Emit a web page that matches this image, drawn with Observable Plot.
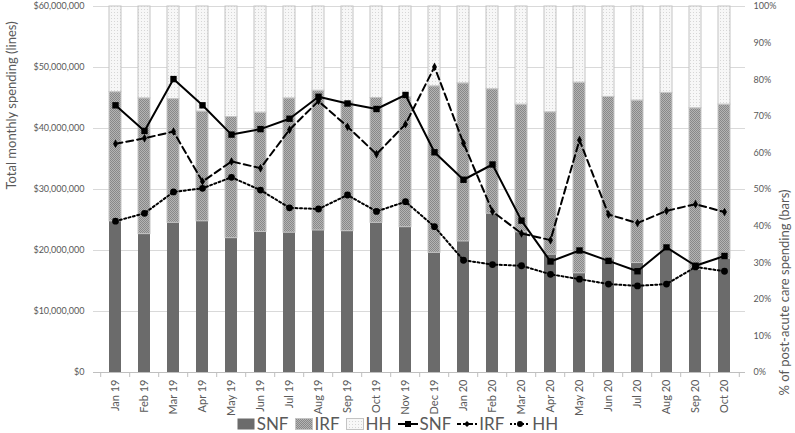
<!DOCTYPE html>
<html>
<head>
<meta charset="utf-8">
<script src="https://cdn.jsdelivr.net/npm/d3@7"></script>
<script src="https://cdn.jsdelivr.net/npm/@observablehq/plot@0.6"></script>
<style>
  html, body { margin: 0; padding: 0; background: #fff; }
  #chart { width: 795px; height: 433px; position: relative; font-family: Lato, "Open Sans", sans-serif; }
  #legend { position: absolute; left: 0; top: 414px; width: 795px; height: 19px; display: flex; justify-content: center; align-items: center; gap: 0; font-size: 17px; color: #595959; }
  .item { display: flex; align-items: center; margin: 0 3px; }
  .item svg { margin-right: 2px; }
</style>
</head>
<body>
<div id="chart"></div>
<script>
// ---- data ----
const months = ["Jan 19","Feb 19","Mar 19","Apr 19","May 19","Jun 19","Jul 19","Aug 19","Sep 19","Oct 19","Nov 19","Dec 19",
                "Jan 20","Feb 20","Mar 20","Apr 20","May 20","Jun 20","Jul 20","Aug 20","Sep 20","Oct 20"];
// bars: share of post-acute care spending (%)
const snfPct = [41.3,37.8,40.9,41.3,36.7,38.4,38.2,38.8,38.6,40.9,39.7,32.7,35.8,43.4,38.3,32.2,27.1,30.9,29.9,33.3,28.1,31.1];
const irfPct = [35.3,37.1,33.8,30.0,33.1,32.6,36.7,38.2,35.4,34.1,35.5,45.5,43.2,34.0,34.9,38.9,52.1,44.4,44.4,43.1,44.1,42.1];
const hhPct  = [23.4,25.1,25.3,28.7,30.2,29.0,25.1,23.0,26.0,25.0,24.8,21.8,21.0,22.6,26.8,28.9,20.8,24.7,25.7,23.6,27.8,26.8];
// lines: total monthly spending ($ millions)
const snfSpend = [43.8,39.6,48.1,43.8,39.0,39.9,41.6,45.2,44.1,43.2,45.5,36.1,31.6,34.1,24.9,18.2,20.0,18.3,16.6,20.5,17.5,19.1];
const irfSpend = [37.5,38.4,39.5,31.3,34.6,33.5,39.8,44.5,40.3,35.8,40.7,50.1,37.6,26.4,22.8,21.7,38.1,25.9,24.5,26.5,27.6,26.3];
const hhSpend  = [24.8,26.1,29.6,30.2,32.0,29.9,27.0,26.8,29.1,26.4,28.0,23.9,18.4,17.7,17.5,16.1,15.3,14.5,14.2,14.5,17.3,16.6];
// ticks
const leftTicks = [0,10,20,30,40,50,60];          // $ millions
const rightTicks = [0,10,20,30,40,50,60,70,80,90,100]; // %
const seriesNames = ["SNF","IRF","HH"];
const leftTitle = "Total monthly spending (lines)";
const rightTitle = "% of post-acute care spending (bars)";

// ---- build tables ----
const MAXD = 60e6;
const pctToY = p => p / 100 * MAXD;
const pctArrays = {SNF: snfPct, IRF: irfPct, HH: hhPct};
const spendArrays = {SNF: snfSpend, IRF: irfSpend, HH: hhSpend};
const bars = [];
months.forEach((m, i) => {
  let base = 0;
  seriesNames.forEach(s => {
    const v = pctArrays[s][i];
    bars.push({month: m, series: s, y1: pctToY(base), y2: pctToY(base + v)});
    base += v;
  });
});
const lines = {};
seriesNames.forEach(s => {
  lines[s] = months.map((m, i) => ({month: m, value: spendArrays[s][i] * 1e6}));
});

const fills = {SNF: "#6b6b6b", IRF: "url(#patIRF)", HH: "url(#patHH)"};
const dash = {SNF: null, IRF: "7,4", HH: "2,2.5"};
const symbols = {SNF: "square", IRF: "diamond", HH: "circle"};
const symR = {SNF: 3.6, IRF: 2.6, HH: 3.4};

const lastMonth = months[months.length - 1];

const marks = [
  Plot.ruleY(leftTicks.slice(1).map(t => t * 1e6), {stroke: "#d9d9d9", strokeWidth: 1}),
];
seriesNames.forEach(s => {
  marks.push(Plot.barY(bars.filter(d => d.series === s), {
    x: "month", y1: "y1", y2: "y2",
    fill: fills[s],
    stroke: s === "SNF" ? "none" : "#c4c4c4", strokeWidth: 1
  }));
});
marks.push(Plot.ruleY([0], {stroke: "#bfbfbf", strokeWidth: 1}));
// category boundary tick marks
marks.push(Plot.ruleX(months, {x: d => d, y1: 0, y2: 0, dx: -14.8, insetBottom: -5, stroke: "#bfbfbf"}));
marks.push(Plot.ruleX([lastMonth], {x: d => d, y1: 0, y2: 0, dx: 14.8, insetBottom: -5, stroke: "#bfbfbf"}));
seriesNames.forEach(s => {
  marks.push(Plot.line(lines[s], {x: "month", y: "value", stroke: "#000", strokeWidth: 2, strokeDasharray: dash[s]}));
  marks.push(Plot.dot(lines[s], {x: "month", y: "value", symbol: () => symbols[s], r: symR[s], fill: "#000", stroke: "none"}));
});
marks.push(Plot.axisY(leftTicks.map(t => t * 1e6), {anchor: "left", tickSize: 0, tickPadding: 9, label: null,
  tickFormat: d => "$" + d3.format(",")(d), fontSize: 9, fill: "#595959"}));
marks.push(Plot.axisY(rightTicks.map(pctToY), {anchor: "right", tickSize: 0, tickPadding: 8, label: null,
  tickFormat: d => Math.round(d / MAXD * 100) + "%", fontSize: 9, fill: "#595959"}));
marks.push(Plot.axisX({tickRotate: -90, tickSize: 0, tickPadding: 7, label: null, fontSize: 11, fill: "#595959"}));
marks.push(Plot.text([leftTitle], {text: d => d, frameAnchor: "left", dx: -82, rotate: -90, fontSize: 13, fill: "#595959"}));
marks.push(Plot.text([rightTitle], {text: d => d, frameAnchor: "right", dx: 39, rotate: -90, fontSize: 13, fill: "#595959"}));

const svg = Plot.plot({
  width: 795, height: 412,
  marginTop: 6, marginBottom: 40, marginLeft: 93, marginRight: 50,
  style: {fontFamily: "Lato, 'Open Sans', sans-serif", background: "white", color: "#595959", overflow: "visible"},
  x: {type: "band", domain: months, paddingInner: 0.6, paddingOuter: 0.3, axis: null},
  y: {domain: [0, MAXD], axis: null},
  marks
});

const patternDefs = `
<pattern id="patIRF" width="2" height="2" patternUnits="userSpaceOnUse">
  <rect width="2" height="2" fill="#b4b4b4"/>
  <rect width="1" height="1" fill="#888888"/>
  <rect x="1" y="1" width="1" height="1" fill="#888888"/>
</pattern>
<pattern id="patHH" width="3" height="3" patternUnits="userSpaceOnUse">
  <rect width="3" height="3" fill="#f7f7f7"/>
  <rect width="1" height="1" fill="#d6d6d6"/>
</pattern>`;
const defs = document.createElementNS("http://www.w3.org/2000/svg", "defs");
defs.innerHTML = patternDefs;
svg.insertBefore(defs, svg.firstChild);

const chart = document.getElementById("chart");
chart.appendChild(svg);

// ---- legend ----
const legend = document.createElement("div");
legend.id = "legend";
function swatchSvg(s) {
  const id = "lg" + s;
  let pat = "";
  if (s === "IRF") pat = `<defs><pattern id="${id}" width="2" height="2" patternUnits="userSpaceOnUse"><rect width="2" height="2" fill="#b4b4b4"/><rect width="1" height="1" fill="#888888"/><rect x="1" y="1" width="1" height="1" fill="#888888"/></pattern></defs>`;
  if (s === "HH") pat = `<defs><pattern id="${id}" width="3" height="3" patternUnits="userSpaceOnUse"><rect width="3" height="3" fill="#f7f7f7"/><rect width="1" height="1" fill="#d6d6d6"/></pattern></defs>`;
  const fill = s === "SNF" ? "#6b6b6b" : `url(#${id})`;
  const stroke = s === "SNF" ? "none" : "#c4c4c4";
  return `<svg width="18" height="12">${pat}<rect x="0.5" y="0.5" width="17" height="11" fill="${fill}" stroke="${stroke}"/></svg>`;
}
function lineSvg(s) {
  let mk = "";
  if (s === "SNF") mk = `<rect x="7" y="3" width="6" height="6" fill="#000"/>`;
  if (s === "IRF") mk = `<path d="M10 3 L13 6 L10 9 L7 6 Z" fill="#000"/>`;
  if (s === "HH") mk = `<circle cx="10" cy="6" r="3" fill="#000"/>`;
  const da = dash[s] ? `stroke-dasharray="${s === "IRF" ? "4,2" : "2,2"}"` : "";
  return `<svg width="20" height="12"><line x1="0" y1="6" x2="20" y2="6" stroke="#000" stroke-width="2" ${da}/>${mk}</svg>`;
}
seriesNames.forEach(s => {
  const it = document.createElement("span");
  it.className = "item";
  it.innerHTML = swatchSvg(s) + `<span>${s}</span>`;
  legend.appendChild(it);
});
seriesNames.forEach(s => {
  const it = document.createElement("span");
  it.className = "item";
  it.innerHTML = lineSvg(s) + `<span>${s}</span>`;
  legend.appendChild(it);
});
chart.appendChild(legend);
</script>
</body>
</html>
